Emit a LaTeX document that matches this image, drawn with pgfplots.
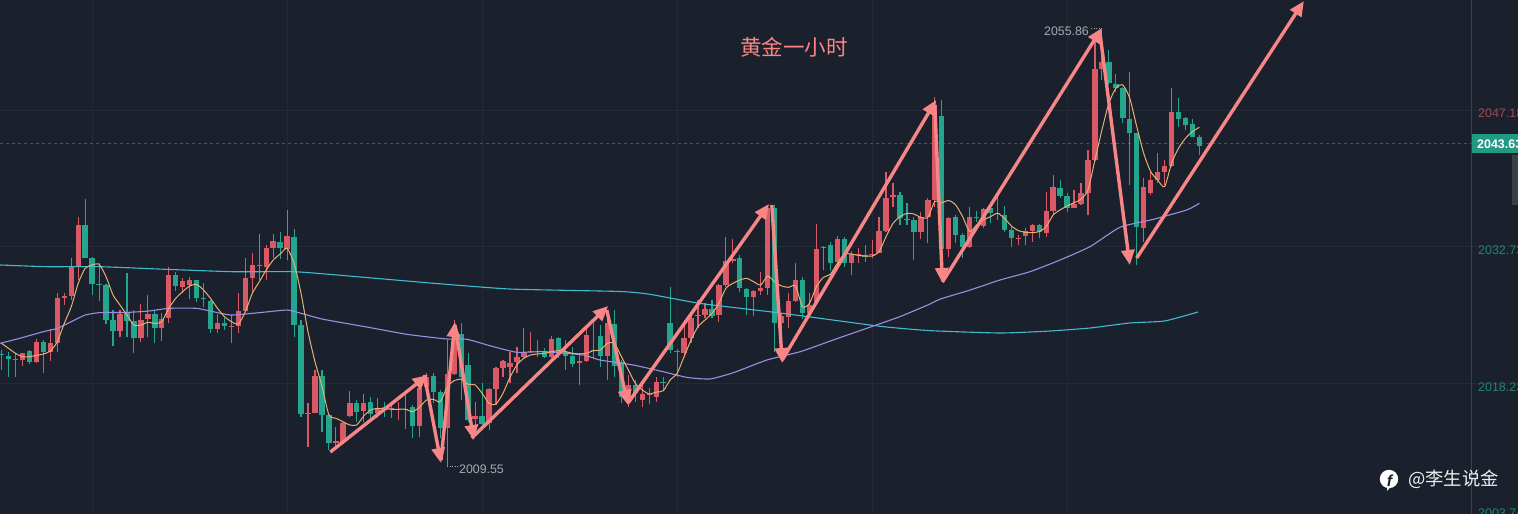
\documentclass[border=0pt]{standalone}
\usepackage{pgfplots}
\usepackage{pgfplotstable}
\usepackage{fontspec}
\pgfplotsset{compat=1.18}
\usetikzlibrary{arrows.meta}
\setmainfont{Liberation Sans}
\newfontfamily\cjk{Noto Sans CJK SC}
\definecolor{bg}{HTML}{1A212D}
\definecolor{gridc}{HTML}{242B37}
\definecolor{cR}{HTML}{D95A66}
\definecolor{cG}{HTML}{24A68E}
\definecolor{cA}{HTML}{F88686}
\definecolor{cO}{HTML}{E8B070}
\definecolor{cP}{HTML}{9C8EE0}
\definecolor{cC}{HTML}{3FBCD0}
\pgfplotstableread{
i l b t h
3 2020.12 2020.76 2021.46 2021.53
5 2020.47 2020.58 2022.62 2022.94
7 2020.65 2021.57 2022.55 2024.00
8 2021.64 2022.52 2027.31 2027.80
9 2026.57 2027.34 2027.48 2027.87
10 2027.10 2027.52 2030.55 2031.50
11 2029.21 2030.69 2035.02 2035.83
17 2023.15 2023.79 2025.62 2026.04
20 2022.69 2023.08 2024.95 2026.67
21 2023.15 2025.09 2025.58 2027.63
23 2022.80 2024.17 2025.09 2025.69
24 2024.63 2025.16 2029.74 2030.55
26 2027.80 2028.47 2029.11 2029.39
27 2027.17 2028.65 2029.21 2029.49
31 2023.57 2024.07 2024.63 2025.62
33 2022.59 2024.31 2024.38 2025.51
34 2023.57 2024.38 2025.93 2027.87
35 2025.86 2025.97 2029.42 2031.50
36 2027.98 2029.46 2030.80 2032.10
37 2029.21 2030.76 2030.83 2034.04
38 2029.21 2030.55 2032.56 2032.91
39 2031.50 2032.56 2033.33 2034.04
41 2031.32 2032.45 2033.86 2036.61
44 2011.60 2015.05 2015.20 2016.18
45 2015.12 2015.20 2019.07 2019.70
48 2011.60 2011.95 2012.20 2013.72
49 2011.95 2012.13 2014.07 2014.24
50 2014.77 2014.84 2016.25 2017.49
52 2014.24 2015.41 2016.18 2017.17
54 2014.60 2015.20 2015.65 2016.71
56 2014.60 2015.55 2015.65 2016.18
57 2014.42 2015.48 2015.62 2016.36
58 2013.47 2015.55 2015.62 2017.24
60 2012.66 2013.79 2017.77 2018.82
61 2017.77 2017.94 2019.00 2019.35
64 2009.55 2013.61 2019.25 2022.88
65 2019.18 2019.28 2023.76 2024.99
68 2013.19 2014.49 2014.84 2016.36
70 2013.36 2014.14 2017.66 2017.77
71 2016.01 2017.73 2019.88 2019.99
72 2018.93 2019.95 2020.66 2020.76
73 2018.30 2019.99 2020.41 2021.64
74 2019.35 2020.55 2021.11 2022.17
75 2020.94 2021.11 2021.64 2024.11
76 2021.47 2021.64 2021.75 2023.76
79 2020.94 2021.04 2022.95 2023.30
83 2018.12 2020.41 2020.69 2021.47
84 2020.59 2020.69 2023.40 2024.46
87 2018.65 2021.18 2024.64 2026.05
90 2015.82 2016.88 2018.11 2019.17
92 2015.82 2016.53 2017.16 2018.64
93 2016.11 2017.06 2017.16 2017.76
94 2016.35 2016.88 2018.47 2018.99
98 2021.11 2021.53 2023.08 2024.98
99 2022.52 2023.05 2025.16 2025.51
100 2024.10 2025.41 2025.51 2027.10
101 2025.16 2025.51 2026.11 2026.74
103 2024.81 2025.51 2028.68 2028.79
104 2028.51 2028.68 2031.25 2033.79
105 2030.97 2031.25 2031.40 2033.51
108 2025.41 2027.38 2028.05 2028.15
109 2027.63 2028.08 2028.33 2030.09
110 2027.63 2028.33 2036.79 2036.96
112 2021.64 2024.63 2025.41 2025.69
113 2024.10 2025.34 2026.99 2027.80
114 2026.92 2027.03 2029.21 2030.97
116 2025.51 2025.69 2026.57 2027.80
117 2026.74 2026.92 2032.49 2035.09
118 2030.27 2032.63 2032.73 2032.76
120 2030.27 2031.15 2033.54 2033.86
122 2029.74 2031.04 2031.92 2032.31
123 2030.97 2031.85 2031.96 2032.56
125 2031.50 2031.85 2031.96 2033.44
126 2032.03 2032.10 2034.43 2035.90
127 2034.32 2034.43 2037.84 2040.63
128 2036.96 2037.95 2038.19 2039.43
132 2033.51 2034.32 2035.90 2036.43
133 2033.09 2035.83 2037.67 2037.84
134 2036.97 2037.68 2047.72 2048.60
136 2031.69 2032.46 2035.81 2035.91
139 2032.57 2032.74 2035.91 2036.97
141 2034.68 2034.93 2036.69 2036.80
146 2032.92 2033.55 2033.62 2033.98
147 2032.92 2033.87 2034.43 2034.68
148 2033.27 2034.43 2035.03 2035.14
150 2033.80 2034.15 2036.51 2038.56
151 2036.09 2036.55 2039.01 2040.32
154 2036.80 2036.87 2037.22 2038.73
155 2037.15 2037.22 2038.38 2039.44
156 2036.09 2038.38 2041.90 2042.96
157 2041.83 2041.90 2051.49 2054.76
158 2050.36 2051.49 2052.30 2055.86
164 2033.27 2034.68 2039.08 2040.04
165 2038.20 2038.38 2039.79 2040.67
166 2039.44 2039.79 2040.64 2042.68
167 2039.26 2040.64 2041.27 2041.90
168 2041.20 2041.27 2047.01 2049.48
}\redt
\pgfplotstableread{
i l b t h
0 2019.70 2021.25 2021.39 2021.81
1 2018.99 2020.90 2021.18 2021.57
2 2018.99 2020.79 2020.86 2021.46
4 2020.33 2020.58 2021.71 2021.81
6 2019.42 2021.57 2022.62 2022.87
12 2031.50 2031.57 2035.02 2037.74
13 2027.63 2028.79 2031.50 2031.61
14 2027.03 2028.68 2028.79 2030.97
15 2024.56 2024.98 2028.65 2028.75
16 2022.27 2023.82 2024.98 2026.04
18 2023.22 2024.91 2025.69 2029.99
19 2021.53 2023.08 2024.91 2026.04
22 2022.52 2024.17 2025.58 2026.04
25 2028.05 2028.61 2029.74 2030.09
28 2026.92 2027.31 2029.18 2029.25
29 2026.39 2027.20 2027.31 2028.86
30 2023.64 2024.03 2027.03 2027.10
32 2023.93 2024.35 2024.63 2025.16
40 2031.40 2032.56 2033.23 2034.25
42 2023.15 2024.45 2033.72 2034.57
43 2014.77 2015.05 2024.45 2024.98
46 2013.19 2014.95 2019.07 2019.70
47 2011.25 2011.95 2014.95 2015.12
51 2014.24 2015.30 2016.25 2016.53
53 2014.60 2015.05 2016.32 2016.82
55 2014.77 2015.58 2015.76 2016.36
59 2012.48 2013.79 2015.76 2016.01
62 2016.18 2017.41 2019.11 2019.35
63 2012.48 2013.61 2017.41 2017.59
66 2016.53 2019.00 2023.51 2024.64
67 2014.24 2014.42 2020.23 2021.47
69 2013.89 2014.00 2014.84 2018.30
77 2021.11 2021.64 2021.71 2022.88
78 2020.94 2021.04 2021.71 2021.99
80 2020.94 2021.64 2023.05 2023.23
81 2019.70 2021.18 2021.64 2022.88
82 2020.06 2020.34 2021.22 2022.17
85 2020.94 2021.71 2021.82 2024.64
86 2020.06 2021.22 2023.30 2024.46
88 2019.00 2020.13 2024.53 2026.05
89 2016.18 2016.88 2020.58 2020.76
91 2016.35 2017.23 2018.11 2018.64
95 2017.59 2018.29 2018.47 2018.99
96 2021.46 2021.81 2024.63 2028.44
97 2018.99 2021.64 2021.74 2021.88
102 2025.16 2025.41 2026.11 2027.10
106 2027.98 2028.33 2031.57 2031.85
107 2025.51 2027.45 2028.26 2028.33
111 2021.64 2024.70 2036.79 2037.14
115 2025.05 2025.76 2029.21 2029.56
119 2030.20 2030.97 2032.91 2033.26
121 2030.55 2030.97 2033.54 2033.79
124 2031.15 2031.68 2031.89 2032.91
129 2035.02 2035.73 2038.19 2038.55
130 2035.02 2035.55 2035.62 2037.31
131 2031.32 2034.32 2035.55 2035.90
135 2032.04 2032.46 2046.55 2048.24
137 2033.10 2033.98 2035.91 2036.09
138 2031.51 2032.74 2033.98 2034.15
140 2035.39 2035.81 2035.91 2036.55
142 2035.21 2036.27 2036.80 2037.04
143 2035.56 2036.20 2036.34 2038.03
144 2034.33 2034.51 2036.09 2037.08
145 2032.74 2033.62 2034.51 2034.86
149 2033.62 2034.33 2035.00 2035.14
152 2037.85 2038.10 2038.94 2039.79
153 2036.44 2036.80 2038.10 2038.38
159 2049.83 2050.01 2052.30 2053.53
160 2049.13 2049.48 2049.94 2050.99
161 2045.78 2046.31 2049.48 2049.65
162 2039.26 2044.72 2046.24 2051.24
163 2030.81 2034.79 2044.72 2044.79
169 2045.43 2046.24 2046.94 2048.42
170 2045.07 2045.60 2046.31 2046.48
171 2044.37 2044.37 2045.71 2046.20
172 2042.43 2043.38 2044.37 2044.55
}\greent
\begin{document}
\begin{tikzpicture}
\path[use as bounding box] (0,0) rectangle (1518bp,514bp);
\clip (0,0) rectangle (1518bp,514bp);
\begin{axis}[
  at={(0,0)}, anchor=south west,
  width=1518bp, height=514bp, scale only axis,
  xmin=-0.23, xmax=217.75, ymin=2004.48, ymax=2058.81,
  axis background/.style={fill=bg},
  axis line style={draw=none},
  tick style={draw=none},
  xtick={13,41,69,97,125,153},
  xticklabels={},
  ytick={2018.23,2032.73,2047.18},
  yticklabels={\textcolor{cG!75!bg}{2018.23},\textcolor{cG!75!bg}{2032.73},\textcolor{cR!70!bg}{2047.18}},
  yticklabel pos=right,
  yticklabel style={anchor=west, inner sep=0pt, xshift=-40bp, yshift=-3bp, font=\fontsize{12.5}{12.5}\selectfont},
  grid=major,
  grid style={gridc, line width=1bp},
  clip=true,
]
% right-hand price scale border and last price line
\addplot[forget plot, color=white!14!bg, line width=1bp] coordinates {(211.1,2004.48) (211.1,2058.81)};
\addplot[forget plot, color=cG!55!bg, line width=0.9bp, dash pattern=on 3bp off 3bp] coordinates {(-0.23,2043.63) (211.1,2043.63)};
% wicks
\addplot[forget plot, no marks, draw=none, error bars/.cd, y dir=plus, y explicit, error mark=none, error bar style={draw=cR, line width=1.15bp}]
  table[x=i, y=l, y error plus expr=\thisrow{h}-\thisrow{l}] {\redt};
\addplot[forget plot, no marks, draw=none, error bars/.cd, y dir=plus, y explicit, error mark=none, error bar style={draw=cG, line width=1.15bp}]
  table[x=i, y=l, y error plus expr=\thisrow{h}-\thisrow{l}] {\greent};
% bodies
\addplot[forget plot, no marks, draw=none, error bars/.cd, y dir=plus, y explicit, error mark=none, error bar style={draw=cR, line width=5.4bp}]
  table[x=i, y=b, y error plus expr=\thisrow{t}-\thisrow{b}] {\redt};
\addplot[forget plot, no marks, draw=none, error bars/.cd, y dir=plus, y explicit, error mark=none, error bar style={draw=cG, line width=5.4bp}]
  table[x=i, y=b, y error plus expr=\thisrow{t}-\thisrow{b}] {\greent};
% cyan average
\addplot[forget plot, cC, line width=1.1bp, smooth, tension=0.3] coordinates {
(-0.2,2030.80)(6.5,2030.62)(14.1,2030.62)(23.7,2030.34)(33.2,2030.09)(41.9,2030.09)(47.1,2029.81)(61.5,2028.90)(73,2028.26)(88.8,2028.00)(93.1,2027.70)(100.3,2026.74)(111.4,2025.76)(119.4,2024.98)(126.6,2024.28)(133.3,2023.86)(143.4,2023.61)(150.5,2023.82)(156.3,2024.14)(162,2024.67)(167,2024.88)(171.8,2025.83)};
% purple average
\addplot[forget plot, cP, line width=1.1bp, smooth, tension=0.3] coordinates {
(-0.2,2022.52)(2.6,2023.05)(6.0,2023.75)(8.0,2024.10)(10.0,2024.81)(12.0,2025.51)(14.0,2025.76)(18.0,2025.79)(21.1,2025.93)(24.0,2026.22)(28.0,2026.22)(30.4,2025.86)(33.0,2025.51)(37.0,2025.76)(41.0,2026.04)(43.0,2025.69)(46.2,2025.06)(52.4,2024.25)(58.2,2023.47)(63.9,2022.98)(66.8,2022.95)(70.6,2022.17)(74.0,2021.57)(77.9,2021.64)(83.5,2021.29)(85.9,2020.76)(90.7,2020.23)(95.0,2019.52)(98.4,2018.92)(101.7,2018.75)(105.1,2019.42)(109.9,2020.76)(114.7,2021.64)(119.4,2022.87)(124.2,2024.10)(129.0,2025.34)(133.3,2026.67)(134.7,2027.18)(139.1,2028.16)(143.4,2029.22)(147.7,2030.10)(152.0,2031.33)(156.3,2032.74)(160.6,2034.79)(165.4,2035.63)(170.2,2036.62)(172,2037.32)};
% orange average
\addplot[forget plot, cO, line width=1bp, smooth, tension=0.4] coordinates {
(0,2022.52)(2,2021.46)(3,2021.11)(4,2021.11)(6,2021.39)(7,2021.71)(8,2022.69)(9,2024.63)(10,2026.39)(11,2028.86)(12,2030.44)(13,2030.80)(14,2030.87)(15,2029.56)(16,2027.63)(17,2026.57)(18,2025.51)(19,2024.45)(20,2024.45)(21,2024.74)(22,2024.63)(23,2024.81)(24,2026.22)(25,2027.27)(26,2027.98)(27,2028.58)(28,2028.75)(29,2028.15)(30,2027.27)(31,2026.22)(32,2025.34)(33,2024.81)(34,2024.56)(35,2025.86)(36,2027.80)(37,2029.03)(38,2030.27)(39,2031.32)(40,2031.96)(41,2032.56)(42,2030.97)(43,2027.80)(44,2023.75)(45,2020.58)(46,2018.00)(47,2014.95)(48,2014.60)(49,2014.24)(50,2013.89)(51,2013.89)(52,2014.84)(53,2015.48)(54,2015.65)(55,2015.58)(56,2015.55)(57,2015.55)(58,2015.55)(59,2015.30)(60,2015.76)(61,2016.53)(62,2016.60)(63,2016.36)(64,2017.94)(65,2018.58)(66,2018.72)(67,2018.19)(68,2018.12)(69,2017.24)(70,2016.18)(71,2016.11)(72,2017.24)(73,2018.93)(74,2020.23)(75,2020.94)(76,2021.29)(77,2021.40)(78,2021.47)(79,2021.64)(80,2021.75)(81,2021.64)(82,2021.47)(83,2021.40)(84,2021.47)(85,2021.75)(86,2021.82)(87,2022.52)(88,2022.52)(89,2021.11)(90,2019.70)(91,2018.29)(92,2017.59)(93,2017.16)(94,2017.37)(95,2017.50)(96,2018.64)(97,2019.35)(98,2021.11)(99,2022.87)(100,2024.28)(101,2024.98)(102,2025.69)(103,2026.74)(104,2028.33)(105,2028.86)(106,2029.21)(107,2029.39)(108,2029.03)(109,2028.68)(110,2029.63)(111,2029.03)(112,2028.58)(113,2028.44)(114,2028.58)(115,2026.39)(116,2026.74)(117,2028.51)(118,2029.49)(119,2029.81)(120,2030.97)(121,2031.96)(122,2031.96)(123,2031.82)(124,2031.75)(125,2031.75)(126,2032.21)(127,2033.79)(128,2035.20)(129,2035.90)(130,2036.26)(131,2036.19)(132,2035.83)(133,2035.83)(134,2037.50)(135,2037.39)(136,2037.61)(137,2037.15)(138,2035.91)(139,2034.33)(140,2035.03)(141,2035.56)(142,2035.91)(143,2036.27)(144,2035.74)(145,2034.93)(146,2034.43)(147,2034.26)(148,2034.22)(149,2034.33)(150,2034.86)(151,2036.09)(152,2036.62)(153,2037.04)(154,2037.39)(155,2037.75)(156,2038.73)(157,2041.90)(158,2045.07)(159,2047.89)(160,2049.48)(161,2049.83)(162,2048.42)(163,2045.43)(164,2042.61)(165,2040.67)(166,2039.79)(167,2039.08)(168,2041.55)(169,2043.14)(170,2044.19)(171,2044.90)(172,2045.36)};
% wave arrows
\pgfplotsset{wave/.style={forget plot, cA, line width=3.4bp, -{Triangle[width=13bp,length=15bp]}}}
\addplot[wave] coordinates {(47.2,2011.03)(61.2,2019.17)};
\addplot[wave] coordinates {(60.7,2019.17)(63.1,2009.87)};
\addplot[wave] coordinates {(63.1,2010.19)(65.1,2024.77)};
\addplot[wave] coordinates {(65.1,2024.46)(67.8,2012.30)};
\addplot[wave] coordinates {(67.5,2012.51)(87.1,2026.47)};
\addplot[wave] coordinates {(86.9,2026.04)(89.95,2016.00)};
\addplot[wave] coordinates {(89.95,2016.21)(110.2,2037.25)};
\addplot[wave] coordinates {(110.6,2037.14)(112.1,2020.44)};
\addplot[wave] coordinates {(112.1,2020.76)(134.2,2048.24)};
\addplot[wave] coordinates {(134.0,2047.71)(135.1,2028.90)};
\addplot[wave] coordinates {(135.1,2029.00)(158.0,2055.85)};
\addplot[wave] coordinates {(157.7,2055.43)(162.0,2030.80)};
\addplot[wave] coordinates {(163.0,2031.54)(187.0,2058.70)};
\end{axis}
% labels
\node[text=cA, font=\cjk\fontsize{21.6}{21.6}\selectfont, inner sep=0pt] at (794bp,467bp) {黄金一小时};
\node[text=white!62!bg, font=\fontsize{12.4}{12.4}\selectfont, inner sep=0pt, anchor=east] at (1089bp,483bp) {2055.86};
\draw[white!62!bg, line width=0.8bp, dash pattern=on 1bp off 1.5bp] (1091bp,486bp) -- (1101bp,486bp);
\node[text=white!62!bg, font=\fontsize{12.4}{12.4}\selectfont, inner sep=0pt, anchor=west] at (459bp,45bp) {2009.55};
\draw[white!62!bg, line width=0.8bp, dash pattern=on 1bp off 1.5bp] (447bp,48bp) -- (458bp,48bp);
\fill[cG!92!black] (1472bp,361bp) rectangle (1518bp,380bp);
\node[text=white, font=\bfseries\fontsize{12.5}{12.5}\selectfont, inner sep=0pt, anchor=west] at (1477bp,370bp) {2043.63};
\fill[white!14!bg] (1512bp,309bp) rectangle (1518bp,359bp);
\node[text=cG!75!bg, font=\fontsize{12.5}{12.5}\selectfont, inner sep=0pt, anchor=west] at (1478bp,1bp) {2003.74};
\fill[white] (1389bp,35bp) circle (9.2bp);
\fill[white] (1387bp,30bp) -- (1393bp,30bp) -- (1387bp,23bp) -- cycle;
\node[text=bg, font=\bfseries\itshape\fontsize{16}{16}\selectfont, inner sep=0pt] at (1389.5bp,33.5bp) {f};
\node[text=white!92!bg, font=\cjk\fontsize{18.4}{18.4}\selectfont, inner sep=0pt, anchor=west] at (1408bp,35bp) {@李生说金};
\end{tikzpicture}
\end{document}
